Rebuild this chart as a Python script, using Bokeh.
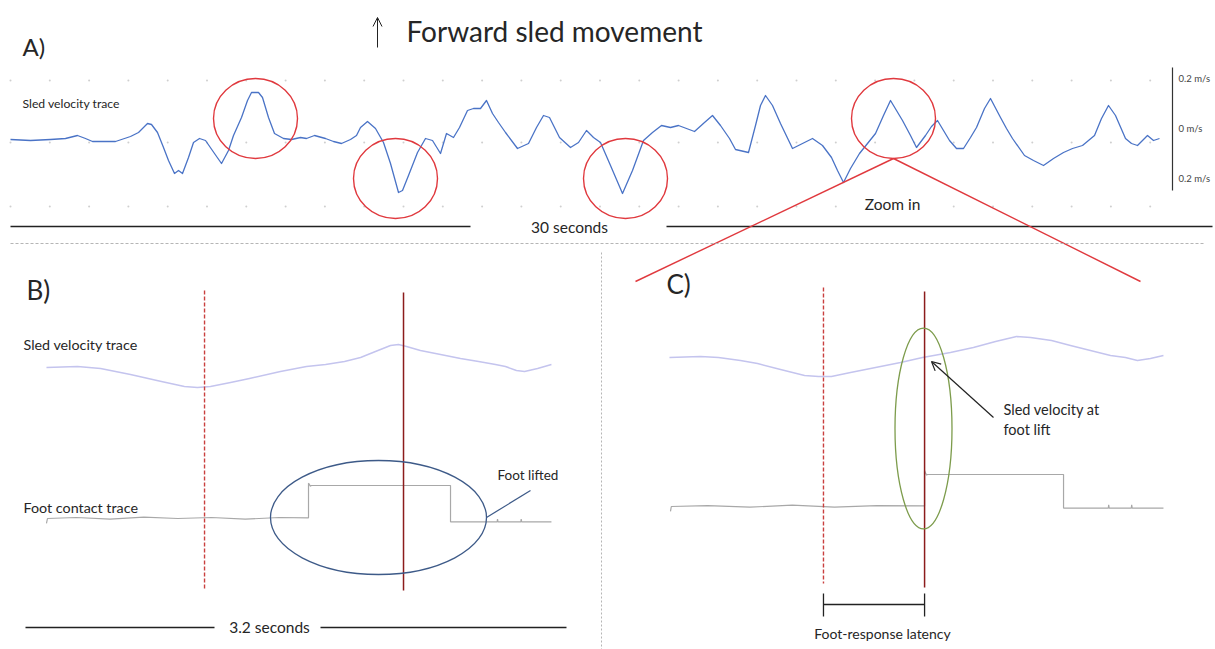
from bokeh.plotting import figure
from bokeh.models import Range1d, Arrow, OpenHead
from bokeh.embed import file_html
from bokeh.resources import INLINE
from bokeh.core.properties import value
import numpy as np

# ---------------- DATA ----------------
# Panel A: 30-s sled velocity trace (time in s, velocity in m/s)
a_time = [0, 0.5, 1.0, 1.375, 1.675, 1.875, 2.05, 2.625, 3.0, 3.2,
          3.425, 3.525, 3.675, 3.825, 3.95, 4.1, 4.2, 4.3, 4.45, 4.575,
          4.725, 4.875, 5.1, 5.275, 5.45, 5.575, 5.775, 5.925, 6.025, 6.2,
          6.3, 6.45, 6.6, 6.825, 7.025, 7.25, 7.4, 7.6, 7.875, 8.075,
          8.275, 8.5, 8.65, 8.75, 8.925, 9.125, 9.325, 9.5, 9.7, 9.8,
          9.95, 10.175, 10.375, 10.55, 10.75, 10.9, 11.075, 11.225, 11.425, 11.575,
          11.75, 11.9, 12.05, 12.2, 12.375, 12.675, 12.95, 13.15, 13.325, 13.475,
          13.725, 14.0, 14.2, 14.4, 14.575, 14.75, 15.0, 15.3, 15.55, 15.825,
          16.05, 16.275, 16.5, 16.7, 17.1, 17.35, 17.55, 17.75, 17.975, 18.125,
          18.45, 18.625, 18.75, 18.875, 19.05, 19.25, 19.55, 19.75, 20.05, 20.3,
          20.525, 20.675, 20.825, 21.0, 21.225, 21.425, 21.625, 21.825, 22.0, 22.3,
          22.5, 22.65, 22.875, 23.025, 23.175, 23.325, 23.475, 23.65, 23.825, 24.0,
          24.15, 24.35, 24.5, 24.75, 24.9, 25.05, 25.35, 25.575, 25.825, 26.075,
          26.325, 26.55, 26.8, 27.1, 27.275, 27.45, 27.625, 27.875, 28.025, 28.175,
          28.3, 28.425, 28.575, 28.725]
a_vel = [-0.044, -0.048, -0.044, -0.04, -0.028, -0.04, -0.052, -0.052, -0.032, -0.016,
         0.02, 0.016, -0.016, -0.076, -0.128, -0.18, -0.168, -0.18, -0.116, -0.056,
         -0.04, -0.048, -0.1, -0.14, -0.088, -0.028, 0.044, 0.112, 0.144, 0.144,
         0.124, 0.044, -0.02, -0.04, -0.044, -0.036, -0.04, -0.028, -0.04, -0.052,
         -0.06, -0.044, -0.028, 0.004, 0.028, 0.0, -0.056, -0.14, -0.256, -0.248,
         -0.188, -0.096, -0.04, -0.048, -0.1, -0.02, -0.036, 0.004, 0.072, 0.08,
         0.08, 0.112, 0.06, 0.024, -0.016, -0.08, -0.06, 0.004, 0.052, 0.044,
         -0.036, -0.076, -0.056, -0.008, -0.036, -0.056, -0.148, -0.26, -0.168, -0.048,
         -0.016, 0.012, 0.004, 0.012, -0.012, 0.024, 0.052, 0.012, -0.04, -0.084,
         -0.096, 0.012, 0.092, 0.132, 0.092, 0.02, -0.08, -0.064, -0.04, -0.068,
         -0.116, -0.168, -0.216, -0.16, -0.1, -0.06, -0.02, 0.052, 0.112, 0.032,
         -0.028, -0.076, -0.028, 0.008, 0.032, -0.008, -0.048, -0.08, -0.08, -0.036,
         0.004, 0.08, 0.12, 0.044, 0.0, -0.04, -0.108, -0.128, -0.148, -0.12,
         -0.096, -0.08, -0.068, -0.028, 0.04, 0.092, 0.052, -0.04, -0.06, -0.068,
         -0.048, -0.028, -0.048, -0.04]
a_circle_time = [6.125, 9.625, 15.375, 22.075]
a_circle_vel = [0.04, -0.2, -0.2, 0.04]
a_scale_vel = [0.2, 0.0, -0.2]
a_scale_labels = ["0.2 m/s", "0 m/s", "0.2 m/s"]
a_span_seconds = 30

# Panel B: 3.2-s zoom (time in s)
b_vel_time = [0.124, 0.308, 0.444, 0.621, 0.804, 0.94, 1.017, 1.094, 1.213, 1.325,
              1.508, 1.662, 1.775, 1.887, 1.982, 2.07, 2.159, 2.206, 2.254, 2.336,
              2.455, 2.573, 2.68, 2.78, 2.839, 2.904, 2.952, 3.029, 3.111]
b_vel = [-0.008, -0.004, -0.012, -0.036, -0.064, -0.084, -0.088, -0.084, -0.068, -0.052,
         -0.024, -0.004, 0.004, 0.016, 0.032, 0.056, 0.08, 0.084, 0.076, 0.06,
         0.044, 0.028, 0.016, 0.004, -0.004, -0.02, -0.024, -0.012, 0.004]
b_foot_time = [0.124, 0.13, 0.3, 0.5, 0.7, 0.9, 1.1, 1.3, 1.5, 1.674, 1.674, 1.685,
               1.69, 2.514, 2.514, 2.79, 2.792, 2.795, 2.93, 2.932, 2.935, 3.111]
b_foot = [-0.15, 0.0, 0.03, -0.02, 0.04, 0.0, 0.03, -0.02, 0.03, 0.02, 1.07, 0.98,
          1.0, 1.0, -0.1, -0.1, -0.02, -0.1, -0.1, -0.02, -0.1, -0.1]
b_events = [1.059, 2.236]          # perturbation onset, foot lift
b_span_seconds = 3.2

# Panel C: foot-response latency
c_vel_time = [0.124, 0.308, 0.414, 0.544, 0.645, 0.781, 0.923, 1.006, 1.082, 1.195,
              1.343, 1.491, 1.621, 1.786, 1.922, 2.053, 2.177, 2.26, 2.384, 2.496,
              2.614, 2.733, 2.821, 2.892, 2.969, 3.046]
c_vel = [0.0, 0.004, 0.0, -0.012, -0.024, -0.048, -0.072, -0.076, -0.076, -0.06,
         -0.04, -0.02, 0.0, 0.02, 0.04, 0.064, 0.084, 0.08, 0.068, 0.048,
         0.028, 0.008, 0.0, -0.012, -0.004, 0.008]
c_foot_time = [0.13, 0.135, 0.35, 0.6, 0.85, 1.1, 1.35, 1.633, 1.633, 1.645, 1.65,
               2.455, 2.455, 2.72, 2.722, 2.725, 2.856, 2.858, 2.861, 3.046]
c_foot = [-0.15, 0.0, 0.03, -0.02, 0.04, -0.02, 0.03, 0.02, 1.12, 0.98, 1.0,
          1.0, -0.05, -0.05, 0.05, -0.05, -0.05, 0.05, -0.05, -0.05]
c_events = [1.035, 1.633]

# ---------------- FIGURE ----------------
W, H = 1215, 649
FONT = value("Lato")
TXT = "#262626"

p = figure(width=W, height=H, x_range=Range1d(0, W), y_range=Range1d(H, 0),
           min_border=0, toolbar_location=None, output_backend="svg",
           x_axis_location=None, y_axis_location=None)
p.grid.visible = False
p.outline_line_color = None
p.background_fill_color = "white"
p.border_fill_color = "white"

p.extra_x_ranges = {
    "ta": Range1d(-0.25, 30.125),
    "tb": Range1d(-25 / 169.06, 1190 / 169.06),
    "tc": Range1d(-648 / 169.06, 567 / 169.06),
}
p.extra_y_ranges = {
    "va": Range1d((128 - 649) / 250, 128 / 250),
    "vb": Range1d((365 - 649) / 250, 365 / 250),
    "vc": Range1d((357 - 649) / 250, 357 / 250),
    "fb": Range1d((518 - 649) / 33, 518 / 33),
    "fc": Range1d((506 - 649) / 32, 506 / 32),
}

def txt(x, y, s, size, align="left", color=TXT, **kw):
    p.text(x=[x], y=[y], text=[s], text_font=FONT, text_font_size=size,
           text_color=color, text_align=align, text_baseline="middle", **kw)

# ---- header ----
txt(22, 46, "A)", "24px")
p.add_layout(Arrow(end=OpenHead(size=9, line_color="#222222", line_width=1),
                   x_start=377, y_start=47, x_end=377, y_end=17,
                   line_color="#222222", line_width=1))
txt(406, 30, "Forward sled movement", "28px")

# ---- panel A ----
gx = np.arange(10, 1165, 39.3)
for gy in (80, 142, 206):
    p.scatter(gx, [gy] * len(gx), size=2, color="#cfcfcf", line_color=None)

p.line(a_time, a_vel, x_range_name="ta", y_range_name="va",
       line_color="#4a73c6", line_width=1.3, line_join="round")
p.ellipse(a_circle_time, a_circle_vel, width=2.1, height=0.32,
          x_range_name="ta", y_range_name="va",
          fill_alpha=0, line_color="#e0393e", line_width=1.4)
txt(22, 103, "Sled velocity trace", "12.2px")

# velocity scale bar
p.segment(x0=[1172], y0=[67], x1=[1172], y1=[190], line_color="#333333", line_width=1.2)
p.text(x=[1178] * 3, y=a_scale_vel, text=a_scale_labels, y_range_name="va",
       text_font=FONT, text_font_size="9.5px", text_color="#444444",
       text_baseline="middle")

# 30 s bar
p.segment(x0=[10, 666], y0=[226, 226], x1=[470, 1212], y1=[226, 226],
          line_color="#222222", line_width=1.3)
txt(569, 226, f"{a_span_seconds} seconds", "15.5px", align="center")
txt(892, 203, "Zoom in", "15.5px", align="center")

# zoom lines
p.segment(x0=[893, 893], y0=[158, 158], x1=[635, 1140], y1=[281, 281],
          line_color="#e0393e", line_width=1.4)

# separators
p.segment(x0=[10], y0=[243], x1=[1205], y1=[243], line_color="#b5b5b5",
          line_width=1, line_dash="3 2")
p.segment(x0=[601], y0=[252], x1=[601], y1=[649], line_color="#b5b5b5",
          line_width=1, line_dash="2 2")

# ---- panel B ----
txt(26, 289, "B)", "26px")
txt(23, 344, "Sled velocity trace", "14.3px")
txt(23, 507, "Foot contact trace", "14.3px")
p.line(b_vel_time, b_vel, x_range_name="tb", y_range_name="vb",
       line_color="#c4c4ee", line_width=1.5, line_join="round")
p.line(b_foot_time, b_foot, x_range_name="tb", y_range_name="fb",
       line_color="#a8a8a8", line_width=1.2)
p.segment(x0=[b_events[0]], y0=[290], x1=[b_events[0]], y1=[589], x_range_name="tb",
          line_color="#c9403f", line_width=1.4, line_dash="4 2")
p.segment(x0=[b_events[1]], y0=[292], x1=[b_events[1]], y1=[590], x_range_name="tb",
          line_color="#8c1c1c", line_width=1.5)
p.ellipse([378], [517], width=216, height=114, fill_alpha=0,
          line_color="#3d5a88", line_width=1.3)
txt(497, 474, "Foot lifted", "13.5px")
p.segment(x0=[530], y0=[490], x1=[486], y1=[517], line_color="#3d5a88", line_width=1.2)
p.segment(x0=[0, 1.745], y0=[627, 627], x1=[1.118, b_span_seconds], y1=[627, 627],
          x_range_name="tb", line_color="#222222", line_width=1.3)
txt(269, 626, f"{b_span_seconds} seconds", "15.5px", align="center")

# ---- panel C ----
txt(666, 283, "C)", "26px")
p.line(c_vel_time, c_vel, x_range_name="tc", y_range_name="vc",
       line_color="#c4c4ee", line_width=1.5, line_join="round")
p.line(c_foot_time, c_foot, x_range_name="tc", y_range_name="fc",
       line_color="#a8a8a8", line_width=1.2)
p.segment(x0=[c_events[0]], y0=[287], x1=[c_events[0]], y1=[583], x_range_name="tc",
          line_color="#c9403f", line_width=1.4, line_dash="4 2")
p.segment(x0=[c_events[1]], y0=[291], x1=[c_events[1]], y1=[587], x_range_name="tc",
          line_color="#8c1c1c", line_width=1.5)
p.ellipse([923], [428], width=57, height=201, fill_alpha=0,
          line_color="#7d9c4c", line_width=1.3)
p.add_layout(Arrow(end=OpenHead(size=9, line_color="#222222", line_width=1.2),
                   x_start=993, y_start=417, x_end=931, y_end=361,
                   line_color="#222222", line_width=1.2))
txt(1003, 409, "Sled velocity at", "14.5px")
txt(1003, 429, "foot lift", "14.5px")
# latency bracket
p.segment(x0=[c_events[0]], y0=[604], x1=[c_events[1]], y1=[604], x_range_name="tc",
          line_color="#222222", line_width=1.3)
p.segment(x0=c_events, y0=[593, 593], x1=c_events, y1=[616, 616], x_range_name="tc",
          line_color="#222222", line_width=1.3)
txt(882, 633, "Foot-response latency", "14px", align="center")

open("out.html", "w").write(file_html(p, INLINE))
